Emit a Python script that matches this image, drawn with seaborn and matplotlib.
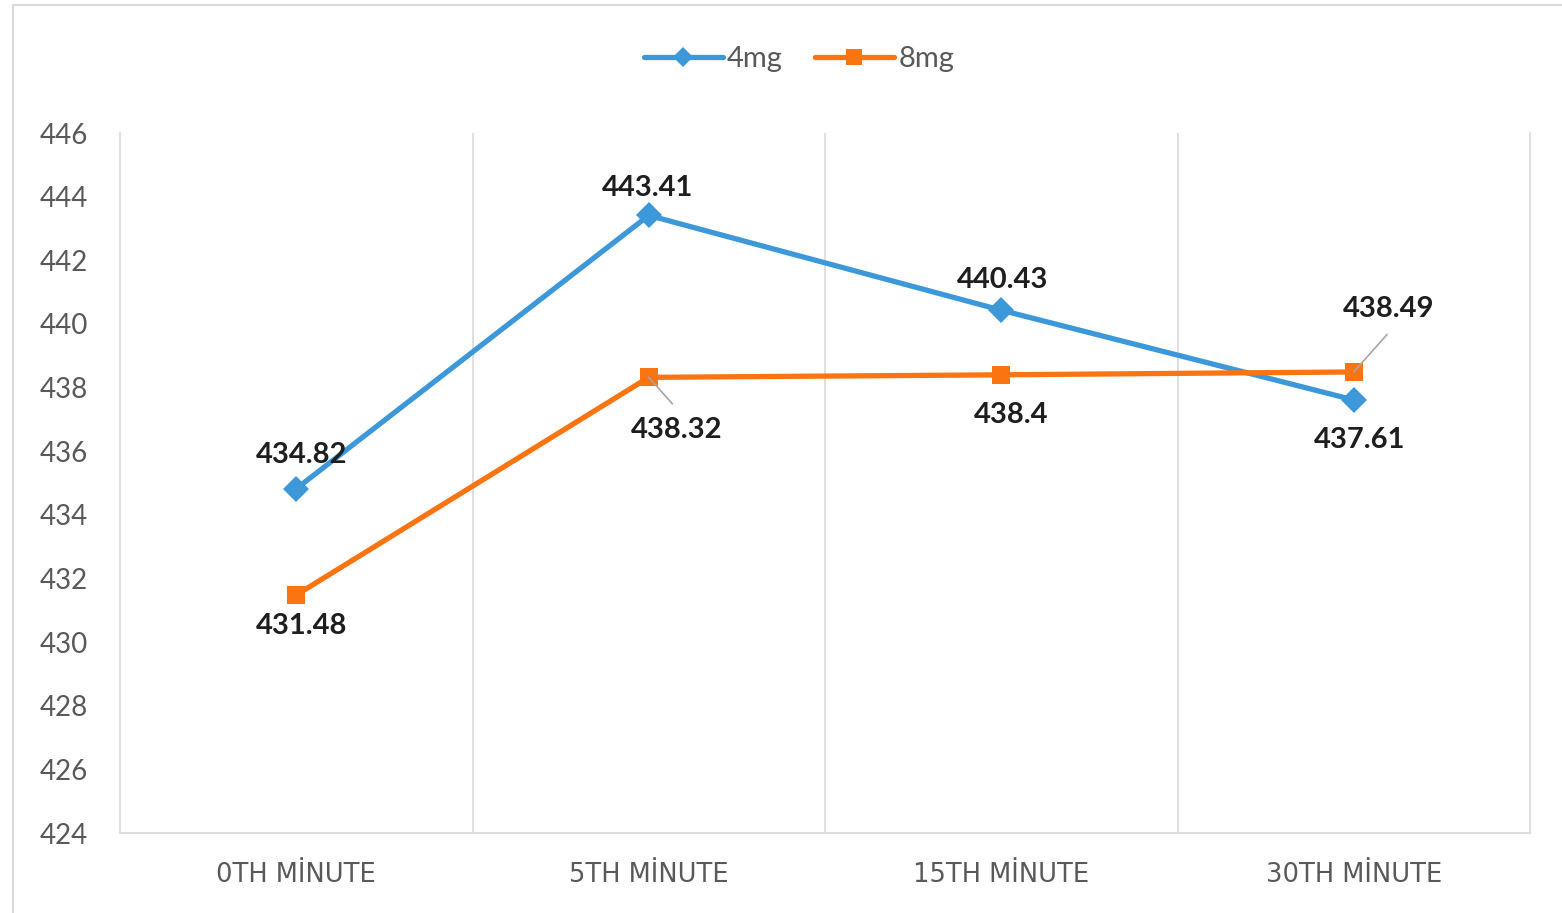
import matplotlib
matplotlib.use("Agg")
import matplotlib.pyplot as plt
import seaborn as sns
import pandas as pd
from matplotlib.patches import Rectangle

# Data
categories = ["0TH MİNUTE", "5TH MİNUTE", "15TH MİNUTE", "30TH MİNUTE"]
values_4mg = [434.82, 443.41, 440.43, 437.61]
values_8mg = [431.48, 438.32, 438.4, 438.49]
y_ticks = list(range(424, 447, 2))

df = pd.DataFrame({
    "time": categories * 2,
    "pos": list(range(len(categories))) * 2,
    "value": values_4mg + values_8mg,
    "dose": ["4mg"] * 4 + ["8mg"] * 4,
})

sns.set_theme(style="white")
plt.rcParams["font.family"] = ["Lato", "DejaVu Sans"]

blue = "#3D98D9"
orange = "#FA7412"
grid_col = "#D9D9D9"
tick_col = "#595959"

fig = plt.figure(figsize=(15.62, 9.13), dpi=100)
ax = fig.add_axes([120 / 1562, 80 / 913, 1410 / 1562, 700 / 913])

sns.lineplot(data=df, x="pos", y="value", hue="dose", style="dose",
             palette={"4mg": blue, "8mg": orange},
             markers={"4mg": "D", "8mg": "s"}, dashes=False,
             linewidth=3.8, markersize=13, markeredgewidth=0, ax=ax,
             legend=False)

ax.set_xlim(-0.5, len(categories) - 0.5)
ax.set_ylim(424, 446)
ax.set_yticks(y_ticks)
ax.set_yticklabels([str(t) for t in y_ticks], fontsize=20, color=tick_col)
ax.set_xticks(range(len(categories)))
ax.set_xticklabels(categories, fontsize=18.5, color=tick_col,
                   family=["DejaVu Sans"])
ax.tick_params(axis="both", length=0)
ax.tick_params(axis="y", pad=23)
ax.tick_params(axis="x", pad=21)
ax.set_xlabel("")
ax.set_ylabel("")

# Vertical dividers between categories
for b in [0.5, 1.5, 2.5]:
    ax.axvline(b, color=grid_col, linewidth=1.2, zorder=0)
for side in ["left", "right", "bottom"]:
    ax.spines[side].set_visible(True)
    ax.spines[side].set_color(grid_col)
    ax.spines[side].set_linewidth(1.2)
ax.spines["top"].set_visible(False)

# Data labels
label_kw = dict(textcoords="offset points", ha="center", va="center",
                fontsize=21, fontweight="bold", color="#1E1E1E")
offsets_4mg = [(4, 24), (-1, 20), (1, 22), (4, -29)]
offsets_8mg = [(4, -22), (20, -38), (7, -29), (25, 45)]
for i, (v, off) in enumerate(zip(values_4mg, offsets_4mg)):
    ax.annotate(f"{v:g}", (i, v), xytext=off, **label_kw)
for i, (v, off) in enumerate(zip(values_8mg, offsets_8mg)):
    ax.annotate(f"{v:g}", (i, v), xytext=off, **label_kw)

# Leader lines for the displaced labels
ax.annotate("", xy=(1, values_8mg[1]), xytext=(17, -19), textcoords="offset points",
            arrowprops=dict(arrowstyle="-", color="#A6A6A6", lw=1.2,
                            shrinkA=0, shrinkB=0))
ax.annotate("", xy=(3, values_8mg[3]), xytext=(24, 27), textcoords="offset points",
            arrowprops=dict(arrowstyle="-", color="#A6A6A6", lw=1.2,
                            shrinkA=0, shrinkB=0))

# Legend
handles = [
    plt.Line2D([], [], color=blue, marker="D", markersize=10, linewidth=3.8, markeredgewidth=0),
    plt.Line2D([], [], color=orange, marker="s", markersize=11, linewidth=3.8, markeredgewidth=0),
]
fig.legend(handles, ["4mg", "8mg"], loc="center", bbox_to_anchor=(799 / 1562, 1 - 59 / 913),
           ncol=2, frameon=False, fontsize=21, labelcolor=tick_col,
           handlelength=2.7, handletextpad=0.15, columnspacing=1.1)

# Chart frame
fig.patches.append(Rectangle((13 / 1562, -0.01), 1.1, 1 - 5 / 913 + 0.01,
                             transform=fig.transFigure, fill=False,
                             edgecolor=grid_col, linewidth=1.5))

fig.savefig("out.png", dpi=100, facecolor="white")
